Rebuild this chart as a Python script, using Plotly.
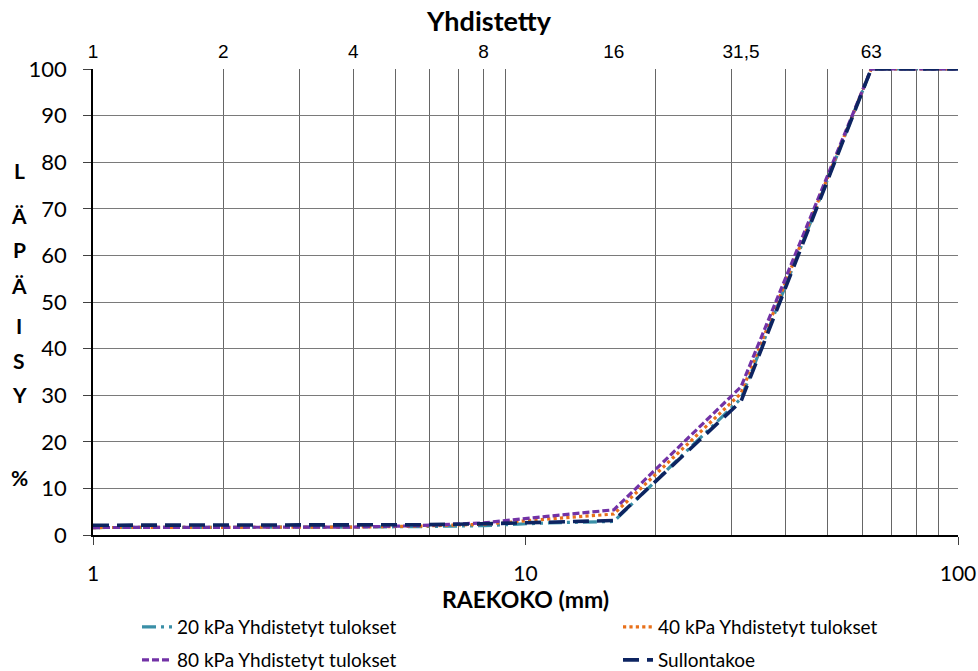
import plotly.graph_objects as go

# Sieve sizes (mm)
sieve = [1, 2, 4, 5.6, 8, 11.2, 16, 31.5, 63, 90, 125]

# Passing percentages
kpa20 = [1.6, 1.6, 1.7, 1.8, 2.0, 2.6, 2.9, 29.3, 100, 100, 100]
kpa40 = [1.6, 1.6, 1.7, 1.9, 2.3, 3.4, 4.5, 30.4, 100, 100, 100]
kpa80 = [1.6, 1.6, 1.7, 2.0, 2.6, 4.0, 5.4, 31.8, 100, 100, 100]
sullontakoe = [2.1, 2.1, 2.1, 2.2, 2.4, 2.8, 3.1, 28.7, 100, 100, 100]

names = ["20 kPa Yhdistetyt tulokset", "40 kPa Yhdistetyt tulokset",
         "80 kPa Yhdistetyt tulokset", "Sullontakoe"]

top_ticks = [1, 2, 4, 8, 16, 31.5, 63]
top_labels = ["1", "2", "4", "8", "16", "31,5", "63"]
y_ticks = list(range(0, 101, 10))
minor_grid = [2, 3, 4, 5, 6, 7, 8, 9, 20, 30, 40, 50, 60, 70, 80, 90]
ylabel_letters = ["L", "Ä", "P", "Ä", "I", "S", "Y", "%"]

W, H = 978, 671
L, R, T, B = 93, 20, 69, 136
plot_w = W - L - R
plot_h = H - T - B

font_main = "Lato, Carlito, Calibri, sans-serif"

fig = go.Figure()
styles = [
    dict(color="#3A8FA7", width=3.2, dash="14px,5px,3px,5px,3px,5px"),
    dict(color="#E8701A", width=3.2, dash="dot"),
    dict(color="#7232A6", width=3.2, dash="7px,3px"),
    dict(color="#0D2461", width=3.6, dash="16px,8px"),
]
legend_ids = ["legend", "legend2", "legend3", "legend4"]
for nm, ys, st, lg in zip(names, [kpa20, kpa40, kpa80, sullontakoe], styles, legend_ids):
    fig.add_trace(go.Scatter(x=sieve, y=ys, mode="lines", name=nm, line=st, legend=lg))

# invisible trace for top axis
fig.add_trace(go.Scatter(x=top_ticks, y=[None] * len(top_ticks), xaxis="x2",
                         showlegend=False, hoverinfo="skip"))

# legend placement (pixels: left edge x, row centre y)
leg_pos = [(137, 627), (618, 627), (137, 660), (618, 660)]
legend_layouts = {}
for lg, (px, py) in zip(legend_ids, leg_pos):
    legend_layouts[lg] = dict(
        x=px / W, xref="container", xanchor="left",
        y=1 - py / H, yref="container", yanchor="middle",
        font=dict(family=font_main, size=19, color="black"),
        bgcolor="rgba(0,0,0,0)", borderwidth=0,
    )

fig.update_layout(
    width=W, height=H,
    margin=dict(l=L, r=R, t=T, b=B, autoexpand=False),
    plot_bgcolor="white", paper_bgcolor="white",
    title=dict(text="<b>Yhdistetty</b>", x=0.5, xref="container", xanchor="center",
               y=1 - 22 / H, yref="container", yanchor="middle",
               font=dict(family=font_main, size=27, color="black")),
    xaxis=dict(type="log", range=[0, 2], tickvals=[1, 10, 100], ticktext=["1", "10", "100"],
               showgrid=False, showline=True, linecolor="black", linewidth=1.5,
               ticks="outside", ticklen=8, tickcolor="#404040", ticklabelstandoff=11,
               tickfont=dict(family=font_main, size=21, color="black"),
               minor=dict(tickvals=minor_grid, showgrid=True, gridcolor="#666666", gridwidth=1),
               title=dict(text="<b>RAEKOKO (mm)</b>", standoff=2,
                          font=dict(family=font_main, size=23, color="black")),
               zeroline=False),
    xaxis2=dict(type="log", range=[0, 2], overlaying="x", side="top",
                tickvals=top_ticks, ticktext=top_labels, showgrid=False,
                tickfont=dict(family="Liberation Sans, Arial", size=19, color="black"),
                ticks="", showline=False, ticklabelstandoff=6),
    yaxis=dict(range=[0, 100], tickvals=y_ticks, showgrid=True, gridcolor="#7a7a7a", gridwidth=1,
               showline=True, linecolor="black", linewidth=1.5, ticks="outside", ticklen=8,
               tickcolor="#404040", zeroline=False, ticklabelstandoff=12,
               tickfont=dict(family=font_main, size=22, color="black")),
    showlegend=True,
    **legend_layouts,
)

ypos = [170, 215, 250, 285, 325, 360, 395, 477]
for letter, yp in zip(ylabel_letters, ypos):
    fig.add_annotation(text="<b>" + letter + "</b>",
                       x=(19 - L) / plot_w, y=(H - B - yp) / plot_h,
                       xref="paper", yref="paper", xanchor="center", yanchor="middle",
                       showarrow=False, font=dict(family=font_main, size=21, color="black"))

fig.write_html("out.html", config={"displayModeBar": False})

# remove the browser's default page margin so the figure sits at the window origin
with open("out.html", encoding="utf-8") as f:
    html = f.read()
html = html.replace("<head>", "<head><style>html,body{margin:0;padding:0;overflow:hidden;}</style>", 1)
with open("out.html", "w", encoding="utf-8") as f:
    f.write(html)
